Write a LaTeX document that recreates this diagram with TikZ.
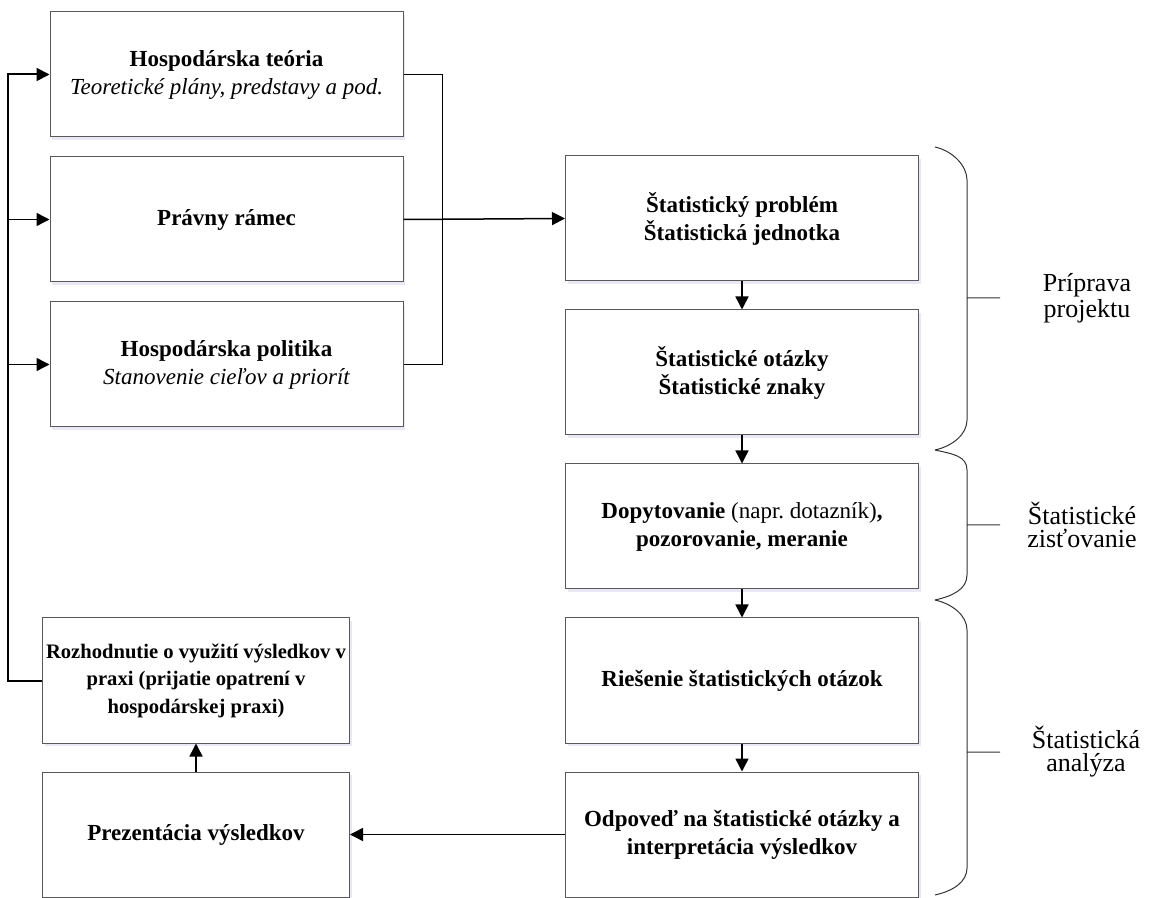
\documentclass[tikz,border=0pt]{standalone}
\usepackage{fontspec}
\setmainfont{Liberation Serif}
\usepackage{tikz}
\usetikzlibrary{positioning, arrows.meta, shadows}

\begin{document}
\begin{tikzpicture}[x=0.5pt, y=-0.5pt, >={Triangle[length=6.5pt,width=6.5pt]}, line width=0.75pt,
    box/.style={draw=black!65, line width=0.5pt, fill=white, align=center,
      font=\fontsize{11.5}{14}\selectfont\bfseries, minimum height=62.5pt,
      drop shadow={shadow xshift=1pt, shadow yshift=-1.5pt, fill=blue!40!gray, opacity=0.12}},
    wide/.style={box, minimum width=176.5pt},
    narrow/.style={box, minimum width=153.5pt, inner xsep=1pt},
    phase/.style={align=center, font=\fontsize{13}{11.5}\selectfont},
    brc/.style={draw=black!80, line width=0.5pt}]
      \useasboundingbox (0,0) rectangle (1152,898);

      \node[wide] (teoria) at (226.5,74.5) {Hospodárska teória\\\mdseries\itshape Teoretické plány, predstavy a pod.};
      \node[wide] (ramec) [below=9.5pt of teoria] {Právny rámec};
      \node[wide] (politika) [below=9.5pt of ramec] {Hospodárska politika\\\mdseries\itshape Stanovenie cieľov a priorít};

      \node[wide] (problem) at (742,218.5) {Štatistický problém\\Štatistická jednotka};
      \node[wide] (otazky) [below=14pt of problem] {Štatistické otázky\\Štatistické znaky};
      \node[wide] (zber) [below=14pt of otazky] {Dopytovanie {\mdseries(napr.\ dotazník)},\\pozorovanie, meranie};
      \node[wide] (riesenie) [below=14pt of zber] {Riešenie štatistických otázok};
      \node[wide] (odpoved) [below=14pt of riesenie] {Odpoveď na štatistické otázky a\\interpretácia výsledkov};

      \node[narrow] (prezent) [left=107.5pt of odpoved] {Prezentácia výsledkov};
      \node[narrow, font=\fontsize{10.3}{13.75}\selectfont\bfseries] (rozhod) [above=14pt of prezent]
        {Rozhodnutie o využití výsledkov v\\praxi (prijatie opatrení v\\hospodárskej praxi)};

      % spojnice
      \coordinate (spoj) at ([xshift=19.5pt]ramec.east);
      \coordinate (spat) at ([xshift=-17pt]rozhod.west);
      \draw (teoria.east) -- (teoria.east -| spoj) -- (politika.east -| spoj) -- (politika.east);
      \draw[->] (ramec.east) -- (problem.west);
      \draw[->] (problem) -- (otazky);
      \draw[->] (otazky) -- (zber);
      \draw[->] (zber) -- (riesenie);
      \draw[->] (riesenie) -- (odpoved);
      \draw[->] (odpoved) -- (prezent);
      \draw[->] (prezent) -- (rozhod);
      \draw[->, line width=1pt] (rozhod.west) -- (spat) |- (teoria.west);
      \draw[->] (spat |- ramec.west) -- (ramec.west);
      \draw[->] (spat |- politika.west) -- (politika.west);

      % zatvorky
      \foreach \ya/\ys/\ye/\yb/\ym in {147/180/420/450/298, 450/470/575/600/525, 600/630/868/895/752}
        \draw[brc] (935,\ya) .. controls (953,\ya+4) and (967,\ys-14) .. (967,\ys) -- (967,\ye)
          .. controls (967,\ye+14) and (953,\yb-4) .. (935,\yb)
          (967,\ym) -- (1000,\ym);

      \node[phase] (priprava) at (1087,298) {Príprava\\projektu};
      \node[phase] (zistovanie) at (1082,525) {Štatistické\\zisťovanie};
      \node[phase] (analyza) at (1086,752) {Štatistická\\analýza};
\end{tikzpicture}
\end{document}
